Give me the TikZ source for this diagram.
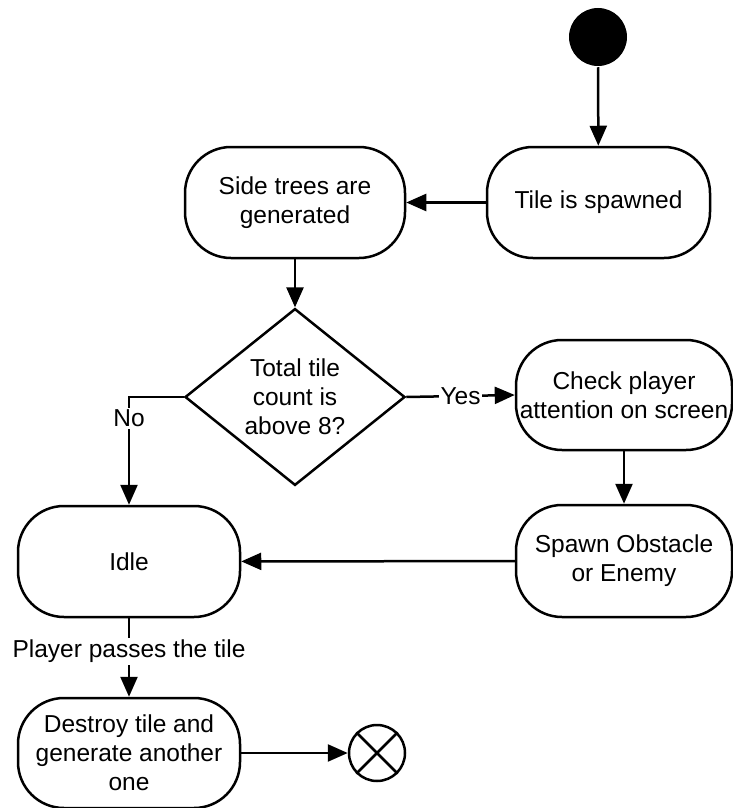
\documentclass[tikz,border=0pt]{standalone}
\usepackage{fontspec}
\setmainfont{Liberation Sans}
\usetikzlibrary{shapes.geometric,arrows.meta}
\begin{document}
\begin{tikzpicture}[x=1pt,y=-1pt,
  font=\fontsize{24.5}{29}\selectfont,
  line width=2.5pt,
  state/.style={draw, rectangle, rounded corners=46pt, align=center,
    inner sep=0pt, minimum width=222pt, minimum height=111pt},
  decision/.style={draw, diamond, align=center, inner sep=0pt,
    minimum width=220pt, minimum height=167pt},
  flow/.style={-{Triangle[length=20pt,width=17pt]}},
  lbl/.style={fill=white, inner sep=2pt}]
\useasboundingbox (0,0) rectangle (732,808);
% states
\node[circle, fill=black, minimum size=58pt, inner sep=0pt] (start) at (598,37) {};
\node[state, minimum width=223pt] (tile) at (598.5,202.5) {Tile is spawned};
\node[state, minimum width=220pt] (side) at (295,202.5) {Side trees are\\generated};
\node[decision] (dec) at (295,397) {Total tile\\count is\\above 8?};
\node[state, minimum width=216pt, minimum height=110pt] (check) at (624,395) {Check player\\attention on screen};
\node[state, minimum width=216pt, minimum height=112pt] (spawn) at (624,561) {Spawn Obstacle\\or Enemy};
\node[state] (idle) at (129,561.5) {Idle};
\node[state, minimum height=110pt] (destroy) at (129,753) {Destroy tile and\\generate another\\one};
\node[circle, draw, minimum size=56pt, inner sep=0pt] (end) at (377,753) {};
\draw (end.north west) -- (end.south east) (end.north east) -- (end.south west);
% transitions
\draw[flow] (start) -- (tile);
\draw[flow] (tile) -- (side);
\draw[flow] (side) -- (dec);
\draw[flow] (dec.east) -- node[lbl, pos=0.5] {Yes} (check.west);
\draw[flow] (check) -- (spawn);
\draw[flow] (spawn) -- (idle);
\draw[flow] (dec.west) -| node[lbl, pos=0.6] {No} (idle.north);
\draw[flow] (idle) -- node[lbl, pos=0.42] {Player passes the tile} (destroy);
\draw[flow] (destroy) -- (end);
\end{tikzpicture}
\end{document}
